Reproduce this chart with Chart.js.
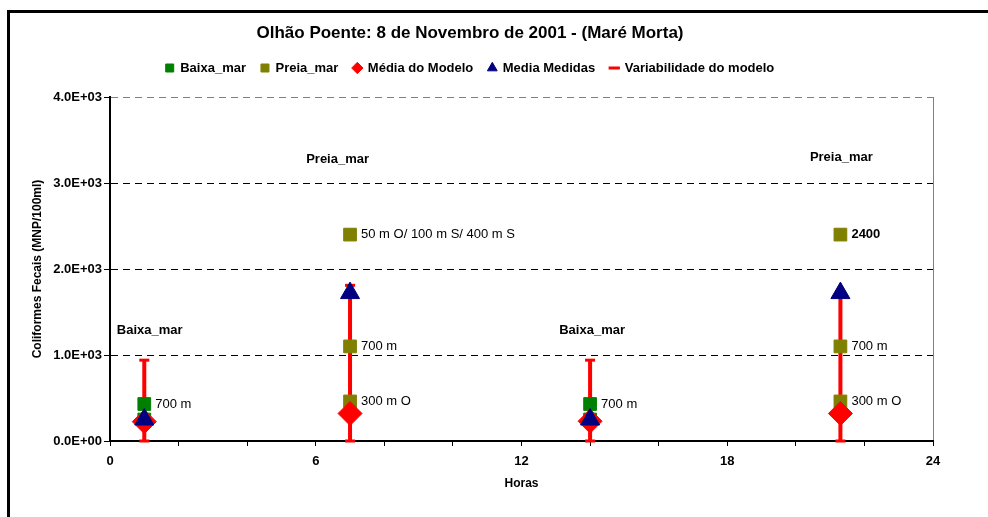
<!DOCTYPE html>
<html>
<head>
<meta charset="utf-8">
<title>Olhão Poente: 8 de Novembro de 2001 - (Maré Morta)</title>
<script src="https://cdn.jsdelivr.net/npm/chart.js@4.4.1/dist/chart.umd.min.js"></script>
<style>
    html, body { margin: 0; padding: 0; background: #fff; overflow: hidden; }
    #frame { position: absolute; left: 7px; top: 10px; width: 1000px; height: 520px; border-left: 3px solid #000; border-top: 3px solid #000; }
    #chart { position: absolute; left: 0; top: 0; }
</style>
</head>
<body>
<div id="frame"></div>
<canvas id="chart" width="988" height="517"></canvas>
<script>
const FONT = "'Liberation Sans', Arial, sans-serif";

// Baixa-mar (horas / coliformes)
const baixaX = [1, 1, 14, 14];
const baixaY = [430, 250, 430, 250];
const baixaLabels = ['700 m', '', '700 m', ''];

// Preia-mar
const preiaX = [7, 7, 7, 21.3, 21.3, 21.3];
const preiaY = [2400, 1100, 460, 2400, 1100, 460];
const preiaLabels = ['50 m O/ 100 m S/ 400 m S', '700 m', '300 m O', '2400', '700 m', '300 m O'];

// Média do modelo
const modeloX = [1, 7, 14, 21.3];
const modeloY = [225, 320, 230, 320];

// Media medidas
const medidasX = [1, 7, 14, 21.3];
const medidasY = [250, 1720, 250, 1720];

// Variabilidade do modelo (min / max)
const varX = [1, 7, 14, 21.3];
const varMin = [0, 0, 0, 0];
const varMax = [940, 1810, 940, 1720];

// textos de maré
const mareText = ['Baixa_mar', 'Preia_mar', 'Baixa_mar', 'Preia_mar'];
const mareX = [0.2, 5.72, 13.1, 20.41];
const mareY = [1290, 3270, 1290, 3300];

const boldLabels = ['2400'];

const toPts = (xs, ys) => xs.map((x, i) => ({ x, y: ys[i] }));

const varData = [];
varX.forEach((h, i) => {
    varData.push({ x: h, y: varMin[i] }, { x: h, y: varMax[i] }, { x: h, y: null });
});

// 1.0E+03 style
function sci(v) {
    const [m, e] = Number(v).toExponential(1).split('e');
    const n = parseInt(e, 10);
    return m + 'E' + (n < 0 ? '-' : '+') + String(Math.abs(n)).padStart(2, '0');
}

// empty box between legend and plot
const spacer = {
    id: 'spacer',
    beforeInit(chart) {
        Chart.layouts.addBox(chart, {
            position: 'top',
            weight: 0,
            fullSize: true,
            options: {},
            update(maxWidth) { this.width = maxWidth; this.height = 12.5; },
            isHorizontal() { return true; },
            draw() {}
        });
    }
};

const textos = {
    id: 'textos',
    afterDatasetsDraw(chart) {
        const { ctx, scales: { x, y } } = chart;
        ctx.save();
        ctx.fillStyle = '#000';
        ctx.textAlign = 'left';
        ctx.textBaseline = 'middle';
        [[0, baixaLabels], [1, preiaLabels]].forEach(([di, labels]) => {
            chart.getDatasetMeta(di).data.forEach((pt, i) => {
                if (!labels[i]) return;
                ctx.font = (boldLabels.includes(labels[i]) ? 'bold ' : '') + '13px ' + FONT;
                ctx.fillText(labels[i], pt.x + 11, pt.y);
            });
        });
        ctx.font = 'bold 13px ' + FONT;
        mareText.forEach((t, i) => {
            ctx.fillText(t, x.getPixelForValue(mareX[i]), y.getPixelForValue(mareY[i]));
        });
        ctx.restore();
    }
};

new Chart(document.getElementById('chart'), {
    type: 'scatter',
    data: {
        datasets: [
            {
                label: 'Baixa_mar',
                data: toPts(baixaX, baixaY),
                pointStyle: 'rect',
                pointRadius: 9,
                backgroundColor: '#008000',
                borderColor: '#008000',
                order: 2,
                clip: false
            },
            {
                label: 'Preia_mar',
                data: toPts(preiaX, preiaY),
                pointStyle: 'rect',
                pointRadius: 9,
                backgroundColor: '#808000',
                borderColor: '#808000',
                order: 3,
                clip: false
            },
            {
                label: 'Média do Modelo',
                data: toPts(modeloX, modeloY),
                pointStyle: 'rectRot',
                pointRadius: 12,
                backgroundColor: '#FF0000',
                borderColor: '#FF0000',
                order: 1,
                clip: false
            },
            {
                label: 'Media Medidas',
                data: toPts(medidasX, medidasY),
                pointStyle: 'triangle',
                pointRadius: 11,
                backgroundColor: '#000080',
                borderColor: '#000080',
                order: 0,
                clip: false
            },
            {
                label: 'Variabilidade do modelo',
                data: varData,
                showLine: true,
                spanGaps: false,
                borderColor: '#FF0000',
                backgroundColor: '#FF0000',
                borderWidth: 4,
                pointStyle: 'line',
                pointRadius: 5,
                pointBorderWidth: 3,
                pointBorderColor: '#FF0000',
                order: 4,
                clip: false
            }
        ]
    },
    options: {
        responsive: false,
        animation: false,
        devicePixelRatio: 1,
        events: [],
        layout: { padding: { left: 7, right: 55, top: 10, bottom: 0 } },
        plugins: {
            title: {
                display: true,
                text: 'Olhão Poente: 8 de Novembro de 2001 - (Maré Morta)',
                color: '#000',
                font: { family: FONT, size: 17, weight: 'bold' },
                padding: { top: 12.8, bottom: 3.3 }
            },
            legend: {
                position: 'top',
                labels: {
                    usePointStyle: true,
                    boxWidth: 8,
                    boxHeight: 8,
                    padding: 15,
                    color: '#000',
                    font: { family: FONT, size: 13, weight: 'bold' },
                    sort: (a, b) => a.datasetIndex - b.datasetIndex
                }
            },
            tooltip: { enabled: false }
        },
        scales: {
            x: {
                type: 'linear',
                min: 0,
                max: 24,
                ticks: {
                    stepSize: 2,
                    autoSkip: false,
                    maxRotation: 0,
                    padding: 8,
                    color: '#000',
                    font: { family: FONT, size: 13, weight: 'bold' },
                    callback: v => (v % 6 === 0 ? String(v) : '')
                },
                grid: {
                    color: c => (c.tick && c.tick.value === 24 ? '#808080' : 'rgba(0,0,0,0)'),
                    tickColor: '#000',
                    tickLength: 5,
                    lineWidth: 1
                },
                border: { color: '#000', width: 2 },
                title: {
                    display: true,
                    text: 'Horas',
                    color: '#000',
                    font: { family: FONT, size: 12, weight: 'bold' },
                    padding: { top: 0, bottom: 26 }
                },
                afterFit: s => { s.height = 76; s.paddingLeft = 0; s.paddingRight = 0; }
            },
            y: {
                min: 0,
                max: 4000,
                ticks: {
                    stepSize: 1000,
                    padding: 2,
                    color: '#000',
                    font: { family: FONT, size: 13, weight: 'bold' },
                    callback: sci
                },
                grid: {
                    color: c => (c.tick && c.tick.value === 4000 ? '#808080' : '#000'),
                    tickColor: '#000',
                    tickLength: 6,
                    tickBorderDash: [],
                    lineWidth: 1
                },
                border: { color: '#000', width: 2, dash: [7, 5] },
                title: {
                    display: true,
                    text: 'Coliformes Fecais (MNP/100ml)',
                    color: '#000',
                    font: { family: FONT, size: 12, weight: 'bold' },
                    padding: { top: 23.5, bottom: 0 }
                },
                afterFit: s => { s.width = 103; s.paddingTop = 0; s.paddingBottom = 0; }
            }
        }
    },
    plugins: [spacer, textos]
});
</script>
</body>
</html>
